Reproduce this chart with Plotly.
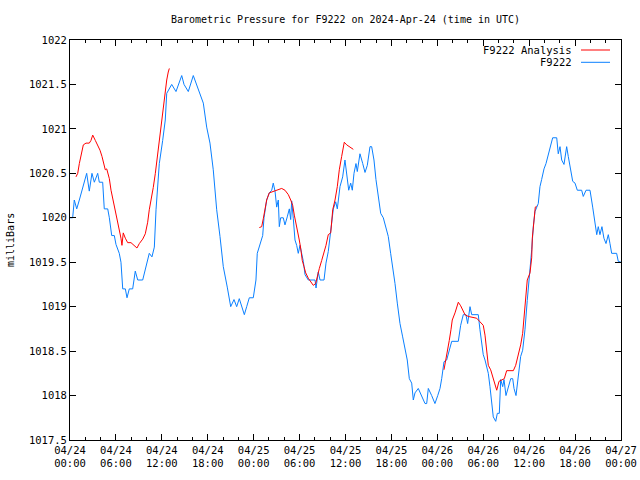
import pandas as pd
import plotly.graph_objects as go

# ---- data (hours since 2024-04-24 00:00 UTC, pressure in mb) ----
obs_hours = [0.0, 0.35, 0.56, 0.88, 1.22, 1.57, 1.87, 2.18, 2.52, 2.87, 3.18, 3.62, 3.83, 4.27, 4.48,
             4.93, 5.14, 5.45, 5.79, 6.01, 6.44, 6.66, 6.89, 7.23, 7.45, 7.75, 7.97, 8.19, 8.53, 8.85,
             9.5, 9.93, 10.15, 10.36, 10.71, 11.02, 11.24, 11.67, 12.11, 12.45, 12.64, 13.29, 13.85,
             14.6, 14.9, 15.46, 16.11, 16.56, 16.99, 17.42, 17.86, 18.29, 18.72, 19.17, 19.6, 20.03,
             20.55, 21.0, 21.43, 21.78, 22.12, 22.44, 22.78, 23.09, 23.43, 23.95, 24.3, 24.47, 24.83,
             25.18, 25.35, 25.7, 26.04, 26.36, 26.56, 26.79, 27.01, 27.22, 27.35, 27.53, 27.87, 28.09,
             28.39, 28.66, 28.84, 28.97, 29.18, 29.4, 29.62, 29.83, 30.05, 30.28, 30.49, 30.71, 31.14,
             32.02, 32.15, 32.44, 32.67, 33.19, 33.45, 33.75, 33.97, 34.19, 34.41, 34.72, 34.93, 35.28,
             35.63, 35.93, 36.16, 36.42, 36.68, 36.89, 37.11, 37.37, 37.54, 37.89, 38.25, 38.55, 38.85,
             39.2, 39.42, 39.72, 39.98, 40.28, 40.6, 40.94, 41.29, 41.59, 41.9, 42.17, 42.47, 42.77,
             43.12, 43.47, 43.77, 44.07, 44.34, 44.65, 44.86, 45.08, 45.51, 45.96, 46.39, 46.61, 46.82,
             47.26, 47.69, 48.05, 48.35, 48.57, 48.87, 49.22, 49.56, 49.88, 50.74, 51.05, 51.39, 51.74,
             51.96, 52.27, 52.49, 53.35, 53.57, 53.79, 54.0, 54.23, 54.66, 54.88, 55.1, 55.31, 55.63,
             55.84, 56.1, 56.19, 56.28, 56.54, 56.71, 56.97, 57.27, 57.59, 57.85, 58.02, 58.28, 58.58,
             58.89, 59.15, 59.45, 59.75, 60.02, 60.33, 60.54, 60.76, 61.19, 61.41, 61.63, 61.94, 62.2,
             62.5, 62.81, 63.07, 63.6, 63.8, 64.03, 64.25, 64.55, 64.9, 65.11, 65.33, 65.69, 65.99,
             66.29, 66.86, 67.07, 67.43, 67.95, 68.3, 68.6, 68.83, 69.03, 69.25, 69.51, 69.77, 70.04,
             70.34, 70.56, 70.78, 71.43, 71.64, 72.0]
obs_values = [1020.0, 1020.0, 1020.2, 1020.1, 1020.2, 1020.3, 1020.4, 1020.5, 1020.3, 1020.5, 1020.4,
              1020.5, 1020.4, 1020.4, 1020.1, 1020.1, 1020.0, 1019.8, 1019.8, 1019.7, 1019.6, 1019.5,
              1019.2, 1019.2, 1019.1, 1019.2, 1019.2, 1019.2, 1019.4, 1019.3, 1019.3, 1019.45, 1019.56,
              1019.6, 1019.56, 1019.67, 1020.09, 1020.61, 1020.87, 1021.1, 1021.4, 1021.5, 1021.42,
              1021.6, 1021.5, 1021.42, 1021.6, 1021.5, 1021.4, 1021.29, 1021.02, 1020.84, 1020.54,
              1020.09, 1019.79, 1019.45, 1019.22, 1019.0, 1019.08, 1019.0, 1019.09, 1019.0, 1018.91,
              1019.0, 1019.1, 1019.1, 1019.3, 1019.6, 1019.7, 1019.8, 1020.0, 1020.2, 1020.28, 1020.31,
              1020.39, 1020.3, 1020.12, 1020.2, 1019.9, 1020.0, 1020.0, 1019.92, 1020.01, 1020.1,
              1019.98, 1020.19, 1019.99, 1019.75, 1019.69, 1019.6, 1019.69, 1019.6, 1019.51, 1019.36,
              1019.3, 1019.3, 1019.21, 1019.39, 1019.3, 1019.3, 1019.49, 1019.62, 1019.79, 1019.94,
              1020.1, 1020.18, 1020.1, 1020.35, 1020.46, 1020.65, 1020.5, 1020.31, 1020.39, 1020.31,
              1020.5, 1020.61, 1020.52, 1020.72, 1020.61, 1020.51, 1020.59, 1020.8, 1020.8, 1020.65,
              1020.43, 1020.24, 1020.05, 1020.0, 1019.9, 1019.79, 1019.6, 1019.45, 1019.26, 1019.04,
              1018.81, 1018.66, 1018.51, 1018.4, 1018.19, 1018.14, 1017.95, 1018.03, 1018.08, 1018.0,
              1017.91, 1017.91, 1018.08, 1018.0, 1017.91, 1018.0, 1018.08, 1018.19, 1018.38, 1018.4,
              1018.51, 1018.61, 1018.61, 1018.79, 1018.91, 1018.91, 1018.81, 1019.0, 1018.91, 1018.91,
              1018.74, 1018.62, 1018.46, 1018.4, 1018.25, 1018.1, 1017.95, 1017.76, 1017.71, 1017.8,
              1017.8, 1018.03, 1018.18, 1018.1, 1018.18, 1018.0, 1018.1, 1018.19, 1018.19, 1018.08,
              1018.0, 1018.23, 1018.44, 1018.51, 1018.74, 1019.07, 1019.3, 1019.64, 1019.9, 1020.07,
              1020.16, 1020.35, 1020.43, 1020.55, 1020.61, 1020.72, 1020.83, 1020.9, 1020.9, 1020.72,
              1020.8, 1020.65, 1020.6, 1020.8, 1020.69, 1020.57, 1020.41, 1020.39, 1020.31, 1020.31,
              1020.24, 1020.31, 1020.31, 1020.12, 1019.96, 1019.81, 1019.9, 1019.81, 1019.9, 1019.77,
              1019.71, 1019.81, 1019.71, 1019.6, 1019.6, 1019.51, 1019.5]

ana1_hours = [0.78, 1.01, 1.22, 1.44, 1.74, 2.09, 2.52, 2.74, 2.97, 3.31, 3.62, 3.92, 4.18, 4.35, 4.61,
              4.8, 5.14, 5.36, 5.58, 5.79, 6.01, 6.23, 6.44, 6.66, 6.79, 6.96, 7.23, 7.54, 7.97, 8.4,
              8.75, 9.06, 9.5, 9.84, 10.15, 10.36, 10.71, 10.88, 11.15, 11.46, 11.67, 11.89, 12.19,
              12.41, 12.64, 12.84, 12.98]
ana1_values = [1020.46, 1020.5, 1020.61, 1020.69, 1020.82, 1020.84, 1020.84, 1020.87, 1020.93, 1020.87,
               1020.82, 1020.76, 1020.69, 1020.63, 1020.54, 1020.55, 1020.44, 1020.31, 1020.22, 1020.12,
               1020.05, 1019.97, 1019.86, 1019.77, 1019.69, 1019.83, 1019.77, 1019.72, 1019.72, 1019.69,
               1019.66, 1019.71, 1019.76, 1019.82, 1019.95, 1020.09, 1020.25, 1020.34, 1020.5, 1020.72,
               1020.91, 1021.06, 1021.28, 1021.42, 1021.55, 1021.64, 1021.68]

ana2_hours = [24.74, 25.05, 25.26, 25.48, 25.7, 26.04, 26.36, 26.79, 27.22, 27.66, 28.09, 28.53, 28.84,
              29.1, 29.31, 29.53, 29.75, 29.96, 30.14, 30.35, 30.58, 30.8, 31.14, 31.49, 31.79, 32.1,
              32.31, 32.58, 32.89, 33.19, 33.45, 33.75, 34.07, 34.33, 34.63, 34.93, 35.19, 35.5, 35.84,
              36.16, 36.59, 37.02]
ana2_values = [1019.89, 1019.9, 1019.99, 1020.09, 1020.2, 1020.28, 1020.29, 1020.31, 1020.32, 1020.33,
               1020.31, 1020.26, 1020.2, 1020.14, 1020.03, 1019.94, 1019.86, 1019.75, 1019.66, 1019.52,
               1019.45, 1019.38, 1019.32, 1019.28, 1019.24, 1019.26, 1019.34, 1019.43, 1019.52, 1019.6,
               1019.69, 1019.81, 1019.83, 1020.09, 1020.2, 1020.35, 1020.54, 1020.69, 1020.85, 1020.82,
               1020.79, 1020.77]

ana3_hours = [48.87, 49.13, 49.3, 49.56, 49.78, 49.95, 50.31, 50.74, 51.05, 51.31, 51.61, 52.04, 52.7,
              53.14, 53.57, 54.0, 54.23, 54.45, 54.66, 54.97, 55.23, 55.53, 55.76, 56.06, 56.41, 56.75,
              57.06, 57.49, 57.93, 58.24, 58.58, 58.89, 59.15, 59.32, 59.5, 59.68, 59.75, 60.11, 60.2,
              60.33, 60.41, 60.54, 60.67, 60.8, 60.98]
ana3_values = [1018.29, 1018.4, 1018.49, 1018.62, 1018.74, 1018.85, 1018.93, 1019.05, 1019.01, 1018.96,
               1018.91, 1018.89, 1018.88, 1018.87, 1018.83, 1018.79, 1018.68, 1018.51, 1018.34, 1018.29,
               1018.21, 1018.14, 1018.06, 1018.16, 1018.18, 1018.19, 1018.28, 1018.28, 1018.28, 1018.34,
               1018.46, 1018.57, 1018.7, 1018.85, 1019.04, 1019.22, 1019.3, 1019.38, 1019.45, 1019.55,
               1019.77, 1019.92, 1020.05, 1020.12, 1020.13]

tick_hours = [0, 6, 12, 18, 24, 30, 36, 42, 48, 54, 60, 66, 72]
tick_labels = ["04/24<br>00:00", "04/24<br>06:00", "04/24<br>12:00", "04/24<br>18:00",
               "04/25<br>00:00", "04/25<br>06:00", "04/25<br>12:00", "04/25<br>18:00",
               "04/26<br>00:00", "04/26<br>06:00", "04/26<br>12:00", "04/26<br>18:00",
               "04/27<br>00:00"]
y_ticks = [1017.5, 1018, 1018.5, 1019, 1019.5, 1020, 1020.5, 1021, 1021.5, 1022]
y_labels = ["1017.5", "1018", "1018.5", "1019", "1019.5", "1020", "1020.5", "1021", "1021.5", "1022"]

base = pd.Timestamp("2024-04-24 00:00")


def to_time(hours):
    return [base + pd.Timedelta(hours=h) for h in hours]


ana_x = to_time(ana1_hours) + [None] + to_time(ana2_hours) + [None] + to_time(ana3_hours)
ana_y = ana1_values + [None] + ana2_values + [None] + ana3_values

RED = "#ff0000"
BLUE = "#0a80ff"
FONT = "DejaVu Sans Mono"

fig = go.Figure()
fig.add_trace(go.Scatter(x=to_time(obs_hours), y=obs_values, mode="lines", name="F9222",
                         line=dict(color=BLUE, width=1)))
fig.add_trace(go.Scatter(x=ana_x, y=ana_y, mode="lines", name="F9222 Analysis",
                         line=dict(color=RED, width=1), connectgaps=False))

fig.update_layout(
    width=640, height=480, autosize=False,
    margin=dict(l=70, r=19, t=40, b=40, autoexpand=False),
    paper_bgcolor="white", plot_bgcolor="white",
    showlegend=False,
    font=dict(family=FONT, size=10, color="black"),
    title=dict(text="Barometric Pressure for F9222 on 2024-Apr-24 (time in UTC)",
               xref="paper", x=0.5, xanchor="center",
               yref="container", y=1 - 19 / 480, yanchor="middle",
               font=dict(family=FONT, size=10)),
)
fig.update_xaxes(
    range=[base, base + pd.Timedelta(hours=72)],
    tickvals=to_time(tick_hours), ticktext=tick_labels,
    ticks="inside", ticklen=6, tickcolor="black", tickwidth=1,
    minor=dict(dtick=2 * 3600 * 1000, ticks="inside", ticklen=3, tickcolor="black"),
    showline=True, linecolor="black", linewidth=1, mirror="ticks",
    showgrid=False, zeroline=False, automargin=False,
    tickfont=dict(family=FONT, size=10.5),
)
fig.update_yaxes(
    range=[1017.5, 1022],
    tickvals=y_ticks, ticktext=y_labels,
    ticks="inside", ticklen=6, tickcolor="black", tickwidth=1,
    showline=True, linecolor="black", linewidth=1, mirror="ticks",
    showgrid=False, zeroline=False, automargin=False,
    tickfont=dict(family=FONT, size=10.5),
)

# y-axis title
fig.add_annotation(text="milliBars", xref="paper", yref="paper", x=-60 / 551, y=0.5,
                   textangle=-90, showarrow=False, font=dict(family=FONT, size=10),
                   xanchor="center", yanchor="middle")

# gnuplot-style key: text right-aligned, line sample on right
legend_items = [("F9222 Analysis", RED), ("F9222", BLUE)]
for i, (label, col) in enumerate(legend_items):
    yp = 1 - (10 + 12.3 * i) / 400
    fig.add_annotation(text=label, xref="paper", yref="paper", x=(574 - 70) / 551, y=yp,
                       xanchor="right", yanchor="middle", showarrow=False,
                       font=dict(family=FONT, size=10.5))
    fig.add_shape(type="line", xref="paper", yref="paper",
                  x0=(581 - 70) / 551, x1=(610 - 70) / 551, y0=yp, y1=yp,
                  line=dict(color=col, width=1))

fig.write_html("out.html",
               config={"displayModeBar": False, "responsive": False},
               post_script="document.body.style.margin='0';document.body.style.padding='0';")
